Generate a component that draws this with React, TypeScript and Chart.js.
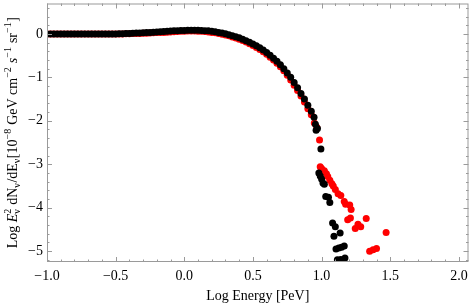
import React, { useEffect, useRef } from "react";
import { Chart, registerables } from "chart.js";

Chart.register(...registerables);

// ---- data ----
const denseLogE = [
  -1.0, -0.975, -0.95, -0.925, -0.9, -0.875, -0.85, -0.825, -0.8, -0.775,
  -0.75, -0.725, -0.7, -0.675, -0.65, -0.625, -0.6, -0.575, -0.55, -0.525,
  -0.5, -0.475, -0.45, -0.425, -0.4, -0.375, -0.35, -0.325, -0.3, -0.275,
  -0.25, -0.225, -0.2, -0.175, -0.15, -0.125, -0.1, -0.075, -0.05, -0.025,
  0.0, 0.025, 0.05, 0.075, 0.1, 0.125, 0.15, 0.175, 0.2, 0.225,
  0.25, 0.275, 0.3, 0.325, 0.35, 0.375, 0.4, 0.425, 0.45, 0.475,
  0.5, 0.525, 0.55, 0.575, 0.6, 0.625, 0.65, 0.675, 0.7, 0.725,
  0.75, 0.775, 0.8, 0.825, 0.85, 0.875, 0.9, 0.925,
];

const blackDenseFlux = [
  0, 0, 0, 0, 0, 0, 0, 0, 0, 0,
  0, 0, 0, 0, 0, 0, 0, 0, 0, 0,
  0, 0.005, 0.005, 0.01, 0.01, 0.015, 0.02, 0.02, 0.025, 0.03,
  0.035, 0.04, 0.045, 0.05, 0.055, 0.06, 0.065, 0.07, 0.075, 0.08,
  0.08, 0.085, 0.085, 0.085, 0.085, 0.08, 0.075, 0.07, 0.06, 0.05,
  0.035, 0.02, 0.005, -0.02, -0.04, -0.065, -0.09, -0.12, -0.155, -0.19,
  -0.23, -0.275, -0.32, -0.37, -0.43, -0.49, -0.56, -0.63, -0.71, -0.8,
  -0.9, -1.0, -1.12, -1.24, -1.37, -1.5, -1.64, -1.78,
];

const redDenseFlux = [
  0, 0, 0, 0, 0, 0, 0, 0, 0, 0,
  0, 0, 0, 0, 0, 0, 0, 0, 0, 0,
  0, 0, 0, 0.005, 0.005, 0.01, 0.01, 0.01, 0.015, 0.015,
  0.02, 0.025, 0.03, 0.03, 0.035, 0.04, 0.045, 0.05, 0.055, 0.06,
  0.06, 0.065, 0.065, 0.065, 0.06, 0.06, 0.055, 0.045, 0.035, 0.025,
  0.01, -0.005, -0.025, -0.045, -0.07, -0.095, -0.12, -0.15, -0.185, -0.225,
  -0.265, -0.31, -0.36, -0.41, -0.47, -0.535, -0.6, -0.675, -0.755, -0.85,
  -0.95, -1.06, -1.18, -1.3, -1.43, -1.57, -1.72, -1.86,
];

const blackTailLogE = [
  0.945, 0.955, 0.96, 0.97, 0.995, 0.98, 0.99, 1.0, 1.01, 1.02,
  1.03, 1.05, 1.06, 1.08, 1.1, 1.09, 1.135, 1.105, 1.125, 1.145,
  1.165, 1.115, 1.14, 1.17,
];
const blackTailFlux = [
  -1.92, -2.08, -2.22, -2.18, -2.65, -3.2, -3.27, -3.34, -3.43, -3.46,
  -3.74, -3.76, -3.88, -4.35, -4.44, -4.66, -4.58, -4.95, -4.93, -4.91,
  -4.88, -5.2, -5.19, -5.16,
];

const redTailLogE = [
  0.947, 0.965, 0.985, 0.99, 1.0, 1.02, 1.035, 1.045, 1.06, 1.075,
  1.085, 1.1, 1.12, 1.14, 1.165, 1.175, 1.205, 1.215, 1.19, 1.21,
  1.245, 1.265, 1.285, 1.325, 1.47, 1.35, 1.375, 1.4,
];
const redTailFlux = [
  -2.05, -2.15, -2.44, -3.06, -3.1, -3.15, -3.22, -3.28, -3.37, -3.45,
  -3.5, -3.58, -3.68, -3.72, -3.86, -3.92, -3.94, -4.04, -4.28, -4.24,
  -4.48, -4.38, -4.44, -4.25, -4.57, -5.0, -4.97, -4.94,
];

const xTickValues = [-1.0, -0.5, 0.0, 0.5, 1.0, 1.5, 2.0];
const yTickValues = [-5, -4, -3, -2, -1, 0];
const xTitle = "Log Energy [PeV]";

const FONT = "'Liberation Serif', 'Times New Roman', serif";

function toPoints(xs: number[], ys: number[]) {
  return xs.map((x, i) => ({ x, y: ys[i] }));
}

const minus = (s: string) => s.replace("-", "\u2212");

const framePlugin = {
  id: "mmaFrame",
  afterDraw(chart: any) {
    const { ctx, chartArea } = chart;
    const { left, right, top, bottom } = chartArea;
    const xs = chart.scales.x;
    const ys = chart.scales.y;
    ctx.save();
    ctx.strokeStyle = "#9a9a9a";
    ctx.lineWidth = 1;
    ctx.strokeRect(left + 0.5, top + 0.5, right - left - 1, bottom - top - 1);
    ctx.beginPath();
    for (let i = -10; i <= 21; i++) {
      const v = i / 10;
      if (v < xs.min - 1e-9 || v > xs.max + 1e-9) continue;
      const px = Math.round(xs.getPixelForValue(v)) + 0.5;
      const len = i % 5 === 0 ? 5 : 2.5;
      ctx.moveTo(px, bottom);
      ctx.lineTo(px, bottom - len);
      ctx.moveTo(px, top);
      ctx.lineTo(px, top + len);
    }
    for (let i = -30; i <= 5; i++) {
      const v = i / 5;
      if (v < ys.min - 1e-9 || v > ys.max + 1e-9) continue;
      const py = Math.round(ys.getPixelForValue(v)) + 0.5;
      const len = i % 5 === 0 ? 5 : 2.5;
      ctx.moveTo(left, py);
      ctx.lineTo(left + len, py);
      ctx.moveTo(right, py);
      ctx.lineTo(right - len, py);
    }
    ctx.stroke();

    // x title
    ctx.fillStyle = "#000";
    ctx.font = `14px ${FONT}`;
    ctx.textAlign = "center";
    ctx.textBaseline = "alphabetic";
    ctx.fillText(xTitle, (left + right) / 2, 300);

    // y title with sub/superscripts
    type Seg = { t: string; it?: boolean; kind?: "sub" | "sup" | "subsup"; t2?: string };
    const segs: Seg[] = [
      { t: "Log " },
      { t: "E", it: true },
      { t: "\u03BD", t2: "2", kind: "subsup" },
      { t: " dN" },
      { t: "\u03BD", kind: "sub" },
      { t: "/dE" },
      { t: "\u03BD", kind: "sub" },
      { t: "[10" },
      { t: "\u22128", kind: "sup" },
      { t: " GeV cm" },
      { t: "\u22122", kind: "sup" },
      { t: " " },
      { t: "s", it: true },
      { t: "\u22121", kind: "sup" },
      { t: " sr" },
      { t: "\u22121", kind: "sup" },
      { t: "]" },
    ];
    const main = 14;
    const small = 10;
    const fontFor = (s: Seg, small_: boolean) =>
      `${s.it ? "italic " : ""}${small_ ? small : main}px ${FONT}`;
    const widthOf = (s: Seg) => {
      if (!s.kind) {
        ctx.font = fontFor(s, false);
        return ctx.measureText(s.t).width;
      }
      ctx.font = fontFor(s, true);
      const w1 = ctx.measureText(s.t).width;
      const w2 = s.t2 ? ctx.measureText(s.t2).width : 0;
      return Math.max(w1, w2) + 0.5;
    };
    const total = segs.reduce((a, s) => a + widthOf(s), 0);
    ctx.translate(17, (top + bottom) / 2);
    ctx.rotate(-Math.PI / 2);
    ctx.textAlign = "left";
    let cx = -total / 2;
    for (const s of segs) {
      const w = widthOf(s);
      if (!s.kind) {
        ctx.font = fontFor(s, false);
        ctx.fillText(s.t, cx, 0);
      } else {
        ctx.font = fontFor(s, true);
        if (s.kind === "sub" || s.kind === "subsup") ctx.fillText(s.t, cx, 3);
        if (s.kind === "sup") ctx.fillText(s.t, cx, -6);
        if (s.kind === "subsup" && s.t2) ctx.fillText(s.t2, cx, -6);
      }
      cx += w;
    }
    ctx.restore();
  },
};

export default function App() {
  const ref = useRef<HTMLCanvasElement | null>(null);
  useEffect(() => {
    document.body.style.margin = "0";
    const canvas = ref.current;
    if (!canvas) return;
    const black = [
      ...toPoints(denseLogE, blackDenseFlux),
      ...toPoints(blackTailLogE, blackTailFlux),
    ];
    const red = [
      ...toPoints(denseLogE, redDenseFlux),
      ...toPoints(redTailLogE, redTailFlux),
    ];
    const chart = new Chart(canvas, {
      type: "scatter",
      data: {
        datasets: [
          {
            label: "black",
            data: black,
            backgroundColor: "#000000",
            borderWidth: 0,
            pointRadius: 3.5,
            pointHoverRadius: 3.5,
          },
          {
            label: "red",
            data: red,
            backgroundColor: "#ff0000",
            borderWidth: 0,
            pointRadius: 3.5,
            pointHoverRadius: 3.5,
          },
        ],
      },
      options: {
        animation: false,
        responsive: false,
        devicePixelRatio: 1,
        layout: { padding: { top: 1, right: 2, left: 0, bottom: 0 } },
        plugins: {
          legend: { display: false },
          tooltip: { enabled: false },
        },
        scales: {
          x: {
            type: "linear",
            min: -1.0,
            max: 2.07,
            grid: { display: false, drawTicks: false },
            border: { display: false },
            afterBuildTicks: (s: any) => {
              s.ticks = xTickValues.map((value) => ({ value }));
            },
            afterFit: (s: any) => {
              s.height = 42;
              s.paddingLeft = 0;
              s.paddingRight = 0;
              s.paddingTop = 0;
              s.paddingBottom = 0;
            },
            ticks: {
              autoSkip: false,
              maxRotation: 0,
              padding: 6,
              color: "#000",
              font: { family: FONT, size: 14 },
              callback: (v: any) => minus(Number(v).toFixed(1)),
            },
          },
          y: {
            type: "linear",
            min: -5.25,
            max: 0.7,
            grid: { display: false, drawTicks: false },
            border: { display: false },
            afterBuildTicks: (s: any) => {
              s.ticks = yTickValues.map((value) => ({ value }));
            },
            afterFit: (s: any) => {
              s.width = 47;
              s.paddingLeft = 0;
              s.paddingRight = 0;
              s.paddingTop = 0;
              s.paddingBottom = 0;
            },
            ticks: {
              autoSkip: false,
              padding: 4,
              color: "#000",
              font: { family: FONT, size: 14 },
              callback: (v: any) => minus(String(Number(v))),
            },
          },
        },
      },
      plugins: [framePlugin],
    });
    return () => chart.destroy();
  }, []);
  return (
    <div style={{ width: 472, height: 304 }}>
      <canvas ref={ref} width={472} height={304} style={{ display: "block" }} />
    </div>
  );
}
